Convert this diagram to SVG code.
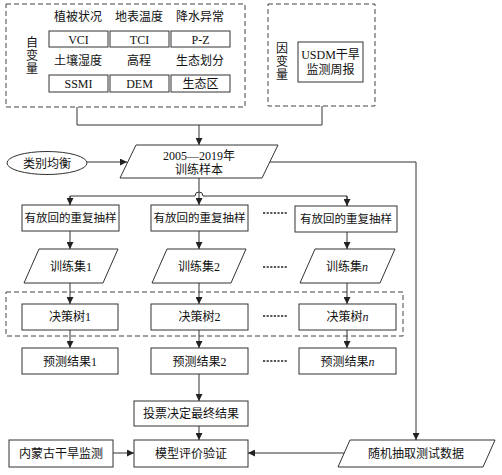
<svg xmlns="http://www.w3.org/2000/svg" width="502" height="475" viewBox="0 0 502 475">
<defs>
<marker id="ah" markerWidth="7" markerHeight="7" refX="7" refY="3.5" orient="auto" markerUnits="userSpaceOnUse">
<path d="M0,0 L7,3.5 L0,7 Z" fill="#222"/>
</marker>
<style>
.box{fill:#fff;stroke:#333;stroke-width:1}
.dbox{fill:none;stroke:#444;stroke-width:1;stroke-dasharray:5 3}
.ln{fill:none;stroke:#333;stroke-width:1}
.arr{fill:none;stroke:#333;stroke-width:1;marker-end:url(#ah)}
.dots{stroke:#222;stroke-width:1.6;stroke-dasharray:2.2 1.4}
text{font-family:"Liberation Serif","Noto Sans CJK SC",serif;font-size:12px;fill:#111;text-anchor:middle}
.s{font-size:11.5px}
.i{font-style:italic}
</style>
</defs>
<rect width="502" height="475" fill="#fff"/>

<g id="indep">
<rect class="dbox" x="6" y="4" width="239" height="103"/>
<text x="32" y="47">自</text>
<text x="32" y="60">变</text>
<text x="32" y="73">量</text>
<text x="78" y="21">植被状况</text>
<text x="139" y="21">地表温度</text>
<text x="200" y="21">降水异常</text>
<rect class="box" x="49" y="31" width="59" height="16"/>
<text x="78.5" y="43.5">VCI</text>
<rect class="box" x="110" y="31" width="59" height="16"/>
<text x="139.5" y="43.5">TCI</text>
<rect class="box" x="171" y="31" width="59" height="16"/>
<text x="200.5" y="43.5">P-Z</text>
<text x="78" y="65">土壤湿度</text>
<text x="139" y="65">高程</text>
<text x="200" y="65">生态划分</text>
<rect class="box" x="49" y="75" width="59" height="17"/>
<text x="78.5" y="88">SSMI</text>
<rect class="box" x="110" y="75" width="59" height="17"/>
<text x="139.5" y="88">DEM</text>
<rect class="box" x="171" y="75" width="59" height="17"/>
<text x="200.5" y="88">生态区</text>
</g>

<g id="dep">
<rect class="dbox" x="268" y="4" width="107" height="102"/>
<text x="282" y="53">因</text>
<text x="282" y="66">变</text>
<text x="282" y="79">量</text>
<rect class="box" x="298" y="42" width="65" height="40"/>
<text x="330.5" y="59">USDM干旱</text>
<text x="330.5" y="74">监测周报</text>
</g>

<g id="balance">
<ellipse cx="47" cy="163" rx="40" ry="11.5" fill="#fff" stroke="#333"/>
<text x="47" y="167.5">类别均衡</text>
</g>

<g id="samples">
<polygon class="box" points="136,145 278,145 262,178 120,178"/>
<text x="199" y="159.5">2005—2019年</text>
<text x="199" y="174">训练样本</text>
</g>

<g id="boot1"><rect class="box" x="22" y="205" width="97" height="26"/><text class="s" x="70.5" y="222">有放回的重复抽样</text></g>
<g id="boot2"><rect class="box" x="151" y="205" width="97" height="26"/><text class="s" x="199.5" y="222">有放回的重复抽样</text></g>
<g id="bootn"><rect class="box" x="295" y="206" width="102" height="26"/><text class="s" x="346" y="223">有放回的重复抽样</text></g>

<g id="set1"><polygon class="box" points="39,249 118,249 103,283 24,283"/><text x="71" y="271">训练集1</text></g>
<g id="set2"><polygon class="box" points="167,249 246,249 231,283 152,283"/><text x="199" y="271">训练集2</text></g>
<g id="setn"><polygon class="box" points="315,249 395,249 380,283 300,283"/><text x="347" y="271">训练集<tspan class="i">n</tspan></text></g>

<rect class="dbox" x="6" y="292" width="397" height="44"/>

<g id="tree1"><rect class="box" x="22" y="304" width="96" height="26"/><text x="70" y="321">决策树1</text></g>
<g id="tree2"><rect class="box" x="151" y="304" width="97" height="26"/><text x="199.5" y="321">决策树2</text></g>
<g id="treen"><rect class="box" x="299" y="304" width="97" height="26"/><text x="347.5" y="321">决策树<tspan class="i">n</tspan></text></g>

<g id="pred1"><rect class="box" x="22" y="348" width="96" height="26"/><text x="70" y="365.5">预测结果1</text></g>
<g id="pred2"><rect class="box" x="151" y="348" width="97" height="26"/><text x="199.5" y="365.5">预测结果2</text></g>
<g id="predn"><rect class="box" x="299" y="348" width="97" height="26"/><text x="347.5" y="365.5">预测结果<tspan class="i">n</tspan></text></g>

<g id="vote"><rect class="box" x="134" y="401" width="114" height="25"/><text x="191" y="418">投票决定最终结果</text></g>
<g id="eval"><rect class="box" x="134" y="440" width="114" height="27"/><text x="191" y="458">模型评价验证</text></g>
<g id="imng"><rect class="box" x="9" y="440" width="104" height="27"/><text x="61" y="458">内蒙古干旱监测</text></g>
<g id="test"><polygon class="box" points="350,440 495,440 483,467 338,467"/><text x="416" y="458">随机抽取测试数据</text></g>

<g id="dots">
<line class="dots" x1="263" y1="213" x2="287" y2="213"/>
<line class="dots" x1="263" y1="267" x2="287" y2="267"/>
<line class="dots" x1="263" y1="316" x2="287" y2="316"/>
<line class="dots" x1="263" y1="361" x2="287" y2="361"/>
</g>

<g id="connectors">
<polyline class="ln" points="77,107 77,125 322,125 322,106"/>
<line class="arr" x1="199" y1="125" x2="199" y2="145"/>
<line class="arr" x1="87" y1="162" x2="127" y2="162"/>
<polyline class="arr" points="270,162 416,162 416,440"/>
<line class="arr" x1="199" y1="178" x2="199" y2="205"/>
<path class="ln" d="M70,205 V196 H195 A4,4 0 0 1 203,196 H347 V206"/>
<line class="arr" x1="70" y1="196" x2="70" y2="205"/>
<line class="arr" x1="347" y1="196" x2="347" y2="206"/>
<line class="arr" x1="70" y1="231" x2="70" y2="249"/>
<line class="arr" x1="199" y1="231" x2="199" y2="249"/>
<line class="arr" x1="347" y1="232" x2="347" y2="249"/>
<line class="arr" x1="70" y1="283" x2="70" y2="304"/>
<line class="arr" x1="199" y1="283" x2="199" y2="304"/>
<line class="arr" x1="347" y1="283" x2="347" y2="304"/>
<line class="arr" x1="70" y1="330" x2="70" y2="348"/>
<line class="arr" x1="199" y1="330" x2="199" y2="348"/>
<line class="arr" x1="347" y1="330" x2="347" y2="348"/>
<line class="arr" x1="199" y1="374" x2="199" y2="401"/>
<line class="arr" x1="199" y1="426" x2="199" y2="440"/>
<line class="arr" x1="113" y1="453" x2="134" y2="453"/>
<line class="arr" x1="344" y1="453" x2="248" y2="453"/>
</g>
</svg>
